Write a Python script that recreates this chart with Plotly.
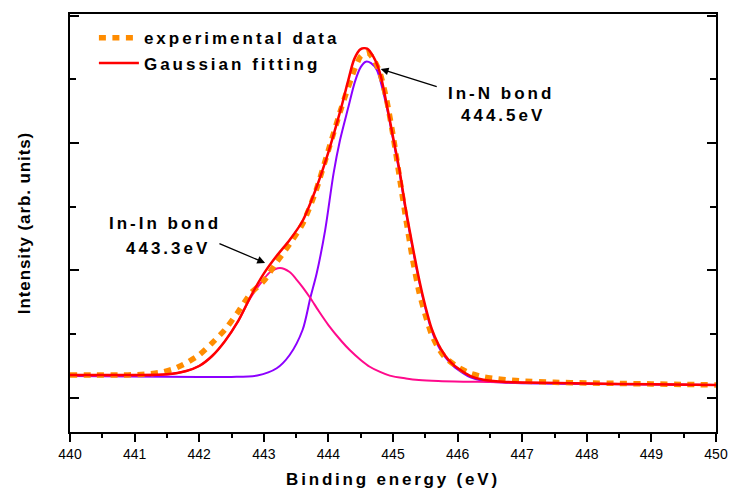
import plotly.graph_objects as go

# ---------------- data ----------------
exp_energy = [440.0, 440.4, 440.8, 441.0, 441.2, 441.4, 441.6, 441.8, 442.0, 442.2,
              442.4, 442.6, 442.8, 443.0, 443.2, 443.4, 443.6, 443.8, 444.0, 444.2,
              444.4, 444.5, 444.6, 444.7, 444.8, 444.9, 445.0, 445.1, 445.2, 445.3,
              445.4, 445.5, 445.6, 445.7, 445.8, 446.0, 446.2, 446.4, 446.6, 446.8,
              447.0, 447.5, 448.0, 448.5, 449.0, 449.5, 450.0]
exp_intensity = [1180, 1180, 1180, 1182, 1188, 1200, 1227, 1274, 1337, 1431,
                 1537, 1674, 1823, 1917, 2066, 2207, 2364, 2615, 2944, 3274,
                 3572, 3681, 3713, 3658, 3548, 3344, 3062, 2733, 2403, 2098,
                 1839, 1651, 1494, 1392, 1321, 1243, 1192, 1165, 1151, 1141,
                 1133, 1123, 1118, 1114, 1110, 1106, 1102]

fit_energy = [440.0, 440.5, 441.0, 441.5, 441.8, 442.0, 442.2, 442.4, 442.6, 442.8,
              443.0, 443.2, 443.4, 443.6, 443.8, 444.0, 444.2, 444.3, 444.4, 444.5,
              444.6, 444.7, 444.8, 444.9, 445.0, 445.1, 445.2, 445.3, 445.4, 445.5,
              445.6, 445.7, 445.8, 445.9, 446.0, 446.2, 446.4, 446.7, 447.0, 448.0,
              449.0, 450.0]
fit_intensity = [1180, 1180, 1180, 1186, 1212, 1251, 1329, 1447, 1600, 1800,
                 1975, 2115, 2239, 2388, 2631, 2929, 3281, 3477, 3658, 3736,
                 3740, 3673, 3546, 3310, 3049, 2788, 2474, 2200, 1941, 1721,
                 1541, 1423, 1337, 1278, 1235, 1172, 1143, 1128, 1122, 1114,
                 1107, 1102]

inin_energy = [440.0, 441.0, 441.5, 441.8, 442.0, 442.2, 442.4, 442.6, 442.8, 443.0,
               443.1, 443.25, 443.4, 443.5, 443.6, 443.72, 443.85, 444.0, 444.2, 444.33,
               444.5, 444.64, 444.8, 444.95, 445.2, 445.4, 445.7, 446.1, 446.5, 447.0,
               448.0, 449.0, 450.0]
inin_intensity = [1176, 1176, 1184, 1212, 1251, 1329, 1447, 1600, 1790, 1933,
                  1988, 2019, 1988, 1933, 1870, 1784, 1682, 1572, 1447, 1376,
                  1298, 1245, 1204, 1175, 1153, 1141, 1133, 1128, 1125, 1120,
                  1114, 1107, 1102]

inn_energy = [440.0, 441.0, 442.0, 442.5, 442.9, 443.2, 443.4, 443.6, 443.72, 443.82,
              443.95, 444.08, 444.18, 444.31, 444.41, 444.5, 444.58, 444.66, 444.75, 444.9,
              445.0, 445.1, 445.2, 445.3, 445.4, 445.5, 445.6, 445.7, 445.8, 445.9,
              446.0, 446.2, 446.4, 446.7, 447.0, 448.0, 449.0, 450.0]
inn_intensity = [1172, 1169, 1165, 1165, 1176, 1233, 1337, 1533, 1784, 1980,
                 2317, 2762, 3023, 3284, 3480, 3595, 3638, 3626, 3572, 3289,
                 3031, 2768, 2458, 2184, 1925, 1706, 1525, 1408, 1325, 1267,
                 1223, 1161, 1133, 1122, 1116, 1110, 1105, 1102]

x_range = [440, 450]
y_range = [733, 4012]

FONT = "Liberation Sans, Arial, sans-serif"


def spaced(txt, sp):
    return '<span style="letter-spacing:%spx"><b>%s</b></span>' % (sp, txt)


fig = go.Figure()

fig.add_trace(go.Scatter(x=inn_energy, y=inn_intensity, mode="lines",
                         line=dict(color="#8C00FF", width=2, shape="spline", smoothing=0.8),
                         showlegend=False, hoverinfo="skip"))
fig.add_trace(go.Scatter(x=inin_energy, y=inin_intensity, mode="lines",
                         line=dict(color="#FF0A8C", width=2, shape="spline", smoothing=0.8),
                         showlegend=False, hoverinfo="skip"))
fig.add_trace(go.Scatter(x=exp_energy, y=exp_intensity, mode="lines",
                         name=spaced("experimental data", 3),
                         line=dict(color="#FF8C00", width=5.5, dash="7px,6.5px", shape="spline", smoothing=0.6)))
fig.add_trace(go.Scatter(x=fit_energy, y=fit_intensity, mode="lines",
                         name=spaced("Gaussian fitting", 3),
                         line=dict(color="#FF0000", width=2.5, shape="spline", smoothing=0.8)))

ann_font = dict(family=FONT, size=17, color="black")
annotations = [
    dict(x=446.67, y=3392, xref="x", yref="y", text=spaced("In-N bond", 3),
         showarrow=False, font=ann_font),
    dict(x=446.70, y=3212, xref="x", yref="y", text=spaced("444.5eV", 3),
         showarrow=False, font=ann_font),
    dict(x=441.47, y=2365, xref="x", yref="y", text=spaced("In-In bond", 3),
         showarrow=False, font=ann_font),
    dict(x=441.52, y=2176, xref="x", yref="y", text=spaced("443.3eV", 3),
         showarrow=False, font=ann_font),
    dict(x=444.81, y=3580, ax=445.70, ay=3439, xref="x", yref="y", axref="x", ayref="y",
         text="", showarrow=True, arrowhead=2, arrowsize=1.2, arrowwidth=1.3, arrowcolor="black"),
    dict(x=443.02, y=2059, ax=442.29, ay=2216, xref="x", yref="y", axref="x", ayref="y",
         text="", showarrow=True, arrowhead=2, arrowsize=1.2, arrowwidth=1.3, arrowcolor="black"),
]

fig.update_layout(
    width=730, height=491,
    margin=dict(l=70, r=14, t=14, b=59, autoexpand=False),
    paper_bgcolor="white", plot_bgcolor="white",
    font=dict(family=FONT, color="black"),
    showlegend=True,
    legend=dict(x=0.037, y=0.985, xanchor="left", yanchor="top",
                bgcolor="rgba(0,0,0,0)", borderwidth=0,
                font=dict(family=FONT, size=17, color="black"),
                itemwidth=40, tracegroupgap=0),
    annotations=annotations,
)

fig.update_xaxes(
    range=x_range, showgrid=False, zeroline=False, automargin=False,
    showline=True, linecolor="black", linewidth=2, mirror=True,
    ticks="outside", ticklen=8, tickwidth=1.5, tickcolor="black",
    tick0=440, dtick=1,
    minor=dict(ticks="outside", ticklen=4, tickwidth=1.5, tickcolor="black", dtick=0.5, showgrid=False),
    tickfont=dict(family=FONT, size=14, color="black"),
    title=dict(text=spaced("Binding energy (eV)", 2.8), font=dict(family=FONT, size=17, color="black"),
               standoff=12),
)
fig.update_yaxes(
    range=y_range, showgrid=False, zeroline=False, automargin=False,
    showline=True, linecolor="black", linewidth=2, mirror="ticks",
    ticks="inside", ticklen=9, tickwidth=1.5, tickcolor="black",
    tick0=0, dtick=1000, showticklabels=False,
    minor=dict(ticks="inside", ticklen=6, tickwidth=1.5, tickcolor="black", dtick=500, showgrid=False),
    title=dict(text=spaced("Intensity (arb. units)", 0.9), font=dict(family=FONT, size=17, color="black"),
               standoff=33),
)

fig.write_html("out.html", config={"displayModeBar": False},
               post_script="document.body.style.margin='0';document.body.style.overflow='hidden';")
